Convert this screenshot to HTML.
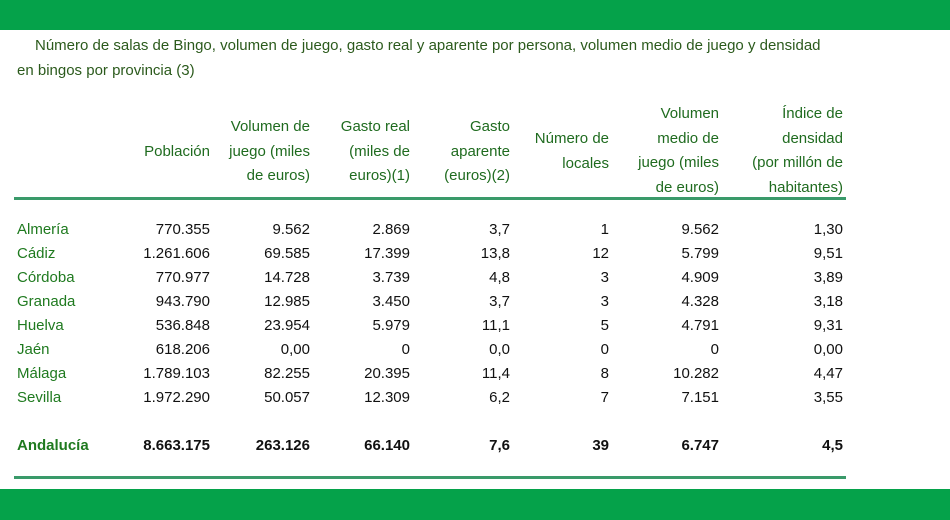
<!DOCTYPE html>
<html><head><meta charset="utf-8"><style>
body{margin:0;width:950px;height:520px;position:relative;background:#fff;font-family:"Liberation Sans",sans-serif;overflow:hidden}
.bar{position:absolute;left:0;width:950px;background:#05a24a}
.t{position:absolute;font-size:15px;color:#2b5a1c;white-space:nowrap}
.c{position:absolute;font-size:15px;white-space:nowrap;text-align:right;line-height:24px}
.h{position:absolute;font-size:15px;color:#1f6b1f;text-align:right;line-height:24.5px;white-space:nowrap}
.n{color:#1f7a1f;text-align:left}
.k{color:#111}
.b{font-weight:bold}
.line{position:absolute;left:14px;width:832px;height:3px;background:#3a9a6a}
</style></head><body>
<div class="bar" style="top:0;height:30px"></div>
<div class="t" style="left:35px;top:37px">Número de salas de Bingo, volumen de juego, gasto real y aparente por persona, volumen medio de juego y densidad</div>
<div class="t" style="left:17px;top:62px">en bingos por provincia (3)</div>
<div id="hdr"></div>
<div class="line" style="top:197px"></div>
<div id="body"></div>
<div class="line" style="top:476px"></div>
<div class="bar" style="top:489px;height:31px"></div>
<script>
const rights=[210,310,410,510,609,719,843];
const headers=[["Población"],["Volumen de","juego (miles","de euros)"],["Gasto real","(miles de","euros)(1)"],["Gasto","aparente","(euros)(2)"],["Número de","locales"],["Volumen","medio de","juego (miles","de euros)"],["Índice de","densidad","(por millón de","habitantes)"]];
const hdrTop=[140,115,115,115,127,102,102];
const names=["Almería","Cádiz","Córdoba","Granada","Huelva","Jaén","Málaga","Sevilla"];
const rows=[["770.355","9.562","2.869","3,7","1","9.562","1,30"],["1.261.606","69.585","17.399","13,8","12","5.799","9,51"],["770.977","14.728","3.739","4,8","3","4.909","3,89"],["943.790","12.985","3.450","3,7","3","4.328","3,18"],["536.848","23.954","5.979","11,1","5","4.791","9,31"],["618.206","0,00","0","0,0","0","0","0,00"],["1.789.103","82.255","20.395","11,4","8","10.282","4,47"],["1.972.290","50.057","12.309","6,2","7","7.151","3,55"]];
const totalName="Andalucía";
const totals=["8.663.175","263.126","66.140","7,6","39","6.747","4,5"];
const H=document.getElementById('hdr'),B=document.getElementById('body');
headers.forEach((h,i)=>{const d=document.createElement('div');d.className='h';


d.style.right=(950-rights[i])+'px';d.style.top=hdrTop[i]+'px';d.innerHTML=h.join('<br>');H.appendChild(d);});
function addRow(name,vals,y,bold){
 const n=document.createElement('div');n.className='c n'+(bold?' b':'');
 
 
 n.style.left='17px';n.style.top=y+'px';n.textContent=name;B.appendChild(n);
 vals.forEach((v,i)=>{const d=document.createElement('div');d.className='c k'+(bold?' b':'');
 
 
 d.style.right=(950-rights[i])+'px';d.style.top=y+'px';d.textContent=v;B.appendChild(d);});
}
rows.forEach((r,i)=>addRow(names[i],r,218+i*24,false));
addRow(totalName,totals,434,true);
</script>
</body></html>
